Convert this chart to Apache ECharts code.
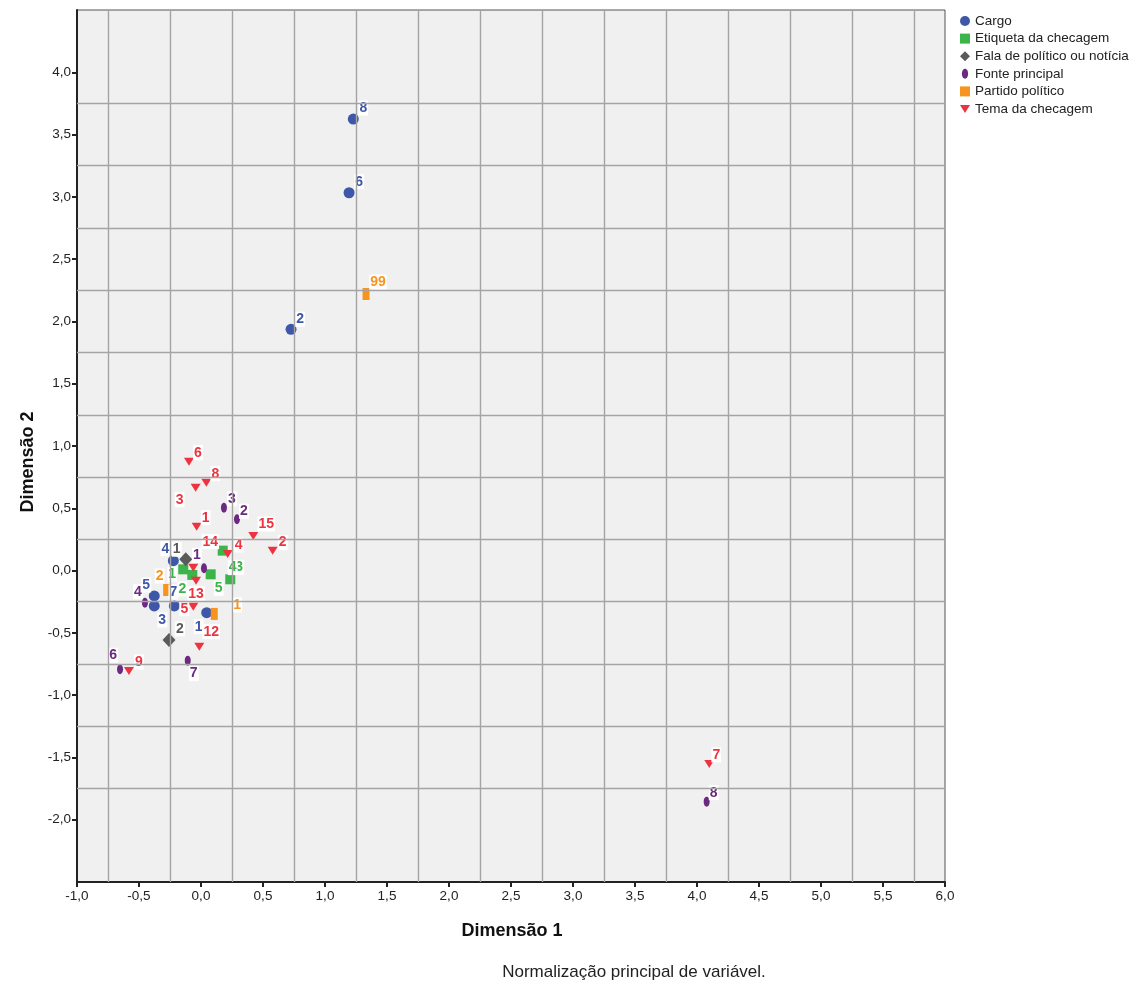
<!DOCTYPE html>
<html>
<head>
<meta charset="utf-8">
<script src="https://cdn.jsdelivr.net/npm/echarts@6/dist/echarts.min.js"></script>
<style>
html,body{margin:0;padding:0;background:#fff;}
#c{width:1133px;height:982px;}
</style>
</head>
<body>
<div id="c"></div>
<script>
// ---- data ----
const cargoNames = ['1','2','3','4','5','6','7','8'];
const cargoX = [0.046, 0.726, -0.377, -0.223, -0.377, 1.194, -0.215, 1.228];
const cargoY = [-0.338, 1.937, -0.284, 0.079, -0.204, 3.033, -0.284, 3.624];

const etiqNames = ['1','2','3','4','5'];
const etiqX = [-0.143, -0.070, 0.236, 0.175, 0.078];
const etiqY = [0.010, -0.035, -0.070, 0.160, -0.030];

const falaNames = ['1','2'];
const falaX = [-0.123, -0.258];
const falaY = [0.091, -0.557];

const fonteNames = ['1','2','3','4','6','7','8'];
const fonteX = [0.024, 0.290, 0.185, -0.452, -0.653, -0.107, 4.078];
const fonteY = [0.018, 0.412, 0.505, -0.258, -0.792, -0.723, -1.855];

const partNames = ['1','2','99'];
const partX = [0.107, -0.277, 1.331];
const partY = [-0.348, -0.156, 2.220];

const temaNames = ['1','2','3','4','5','6','7','8','9','12','13','14','15'];
const temaX = [-0.035, 0.578, -0.043, 0.215, -0.062, -0.097, 4.099, 0.043, -0.581, -0.014, -0.040, -0.062, 0.422];
const temaY = [0.352, 0.160, 0.665, 0.133, -0.290, 0.874, -1.552, 0.705, -0.806, -0.611, -0.081, 0.023, 0.278];

const xTicks = [-1, -0.5, 0, 0.5, 1, 1.5, 2, 2.5, 3, 3.5, 4, 4.5, 5, 5.5, 6];
const yTicks = [-2, -1.5, -1, -0.5, 0, 0.5, 1, 1.5, 2, 2.5, 3, 3.5, 4];
const xGrid = [-0.75, -0.25, 0.25, 0.75, 1.25, 1.75, 2.25, 2.75, 3.25, 3.75, 4.25, 4.75, 5.25, 5.75];
const yGrid = [-1.75, -1.25, -0.75, -0.25, 0.25, 0.75, 1.25, 1.75, 2.25, 2.75, 3.25, 3.75];

// ---- label placement (style, pixels) ----
const cargoLbl = [[-8,14],[9,-10],[8,14],[-8,-12],[-8,-11],[10,-11],[-1,-14],[10,-11]];
const etiqLbl = [[-11,5],[-10,14],[9,-12],[10,17],[8,14]];
const falaLbl = [[-9,-10],[11,-11]];
const fonteLbl = [[-7,-13],[7,-8],[8,-9],[-7,-11],[-7,-14],[6,13],[7,-9]];
const partLbl = [[23,-9],[-7,-14],[12,-12]];
const temaLbl = [[9,-9],[10,-8],[-16,12],[11,-9],[-9,2],[9,-9],[7,-9],[9,-9],[10,-9],[12,-15],[0,13],[17,-26],[13,-12]];

const FONT = 'Arial, "Liberation Sans", sans-serif';
const ELLIPSE = 'path://M5,0 A5,8 0 1,1 5,16 A5,8 0 1,1 5,0 Z';
const TRI = 'path://M0,0 L10,0 L5,8 Z';

function fmt(v){ return v.toFixed(1).replace('.', ','); }

function mkSeries(name, names, xs, ys, lbl, color, symbol, size){
  return {
    name: name, type: 'scatter', symbol: symbol, symbolSize: size, z: 3,
    itemStyle: {color: color, opacity: 1},
    label: {show: true, position: 'inside', formatter: '{b}', color: color,
      fontFamily: FONT, fontWeight: 'bold', fontSize: 14,
      backgroundColor: '#ffffff', padding: [1,1,0,1], align: 'center', verticalAlign: 'middle'},
    emphasis: {disabled: true},
    data: names.map((n,i)=>({name: n, value: [xs[i], ys[i]], label: {offset: lbl[i]}}))
  };
}

const series = [
  mkSeries('Cargo', cargoNames, cargoX, cargoY, cargoLbl, '#3f57a8', 'circle', 11),
  mkSeries('Etiqueta da checagem', etiqNames, etiqX, etiqY, etiqLbl, '#3bb44a', 'rect', 10),
  mkSeries('Fala de político ou notícia', falaNames, falaX, falaY, falaLbl, '#5a5a5a', 'diamond', [13,14]),
  mkSeries('Fonte principal', fonteNames, fonteX, fonteY, fonteLbl, '#6b2a80', ELLIPSE, [6,10]),
  mkSeries('Partido político', partNames, partX, partY, partLbl, '#f7941e', 'rect', [7,12]),
  mkSeries('Tema da checagem', temaNames, temaX, temaY, temaLbl, '#ee3340', TRI, [10,8])
];
series.push({
  name: 'grid', type: 'scatter', data: [], z: 1, silent: true,
  markLine: {silent: true, symbol: ['none','none'], label: {show: false}, animation: false,
    lineStyle: {color: '#a4a4a4', width: 1.4, type: 'solid'},
    data: xGrid.map(v=>({xAxis: v})).concat(yGrid.map(v=>({yAxis: v})))}
});

const chart = echarts.init(document.getElementById('c'), null, {renderer: 'canvas'});
chart.setOption({
  animation: false,
  backgroundColor: '#ffffff',
  grid: {left: 77, right: 188, top: 10, bottom: 100, show: true, backgroundColor: '#f0f0f0', borderColor: '#555555', borderWidth: 1},
  legend: {
    orient: 'vertical', left: 955, top: 9, itemWidth: 10, itemHeight: 10, itemGap: 3.6,
    textStyle: {fontFamily: FONT, fontSize: 13.5, color: '#222', lineHeight: 14},
    data: ['Cargo','Etiqueta da checagem','Fala de político ou notícia','Fonte principal','Partido político','Tema da checagem'],
    selectedMode: false
  },
  xAxis: {
    type: 'value', min: -1, max: 6, interval: 0.5,
    axisLine: {show: true, onZero: false, lineStyle: {color: '#222', width: 2}},
    axisTick: {show: true, length: 5, lineStyle: {color: '#222', width: 2}},
    axisLabel: {fontFamily: FONT, fontSize: 13.5, color: '#222', margin: 7, formatter: fmt},
    splitLine: {show: false}
  },
  yAxis: {
    type: 'value', min: -2.5, max: 4.5, interval: 0.5,
    axisLine: {show: true, onZero: false, lineStyle: {color: '#222', width: 2}},
    axisTick: {show: true, length: 5, customValues: yTicks, lineStyle: {color: '#222', width: 2}},
    axisLabel: {fontFamily: FONT, fontSize: 13.5, color: '#222', margin: 6, customValues: yTicks, formatter: fmt},
    splitLine: {show: false}
  },
  graphic: [
    {type: 'text', x: 28, y: 462, rotation: Math.PI/2, style: {text: 'Dimensão 2', font: 'bold 18px ' + FONT, fill: '#111', textAlign: 'center', textVerticalAlign: 'middle'}},
    {type: 'text', x: 512, y: 931, style: {text: 'Dimensão 1', font: 'bold 18px ' + FONT, fill: '#111', textAlign: 'center', textVerticalAlign: 'middle'}},
    {type: 'text', x: 634, y: 972, style: {text: 'Normalização principal de variável.', font: '17px ' + FONT, fill: '#222', textAlign: 'center', textVerticalAlign: 'middle'}}
  ],
  series: series
});
</script>
</body>
</html>
